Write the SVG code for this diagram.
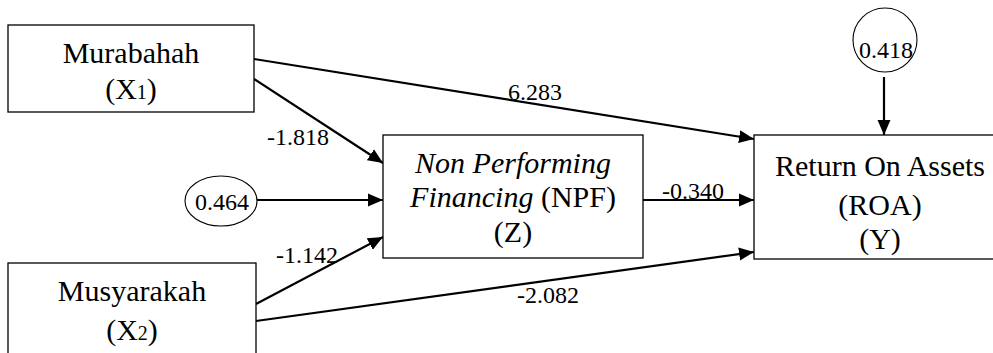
<svg xmlns="http://www.w3.org/2000/svg" width="993" height="353" viewBox="0 0 993 353">
<style>
.box{fill:#fff;stroke:#000;stroke-width:1.3}
.ell{fill:#fff;stroke:#000;stroke-width:1.1}
.t{font-size:30px;fill:#000;text-anchor:middle}
.lb{font-size:24px;fill:#000}
.c{stroke:#000;stroke-width:2.2;fill:none;marker-end:url(#ah)}
</style>
<defs>
<marker id="ah" markerUnits="userSpaceOnUse" markerWidth="16" markerHeight="14" refX="15" refY="7" orient="auto">
<path d="M0,0.5 L15,7 L0,13.5 z" fill="#000"/>
</marker>
</defs>
<rect width="993" height="353" fill="#fff"/>
<g font-family="'Liberation Serif', 'Times New Roman', Tinos, 'DejaVu Serif', serif">
<g id="connectors">
<line class="c" x1="254" y1="59" x2="754" y2="139"/>
<line class="c" x1="254" y1="79" x2="383" y2="163"/>
<line class="c" x1="257" y1="200" x2="383" y2="200"/>
<line class="c" x1="256" y1="304" x2="383" y2="237"/>
<line class="c" x1="256" y1="321" x2="754" y2="252"/>
<line class="c" x1="643" y1="200" x2="754" y2="200"/>
<line class="c" x1="884" y1="77" x2="884" y2="135"/>
<text class="lb" x="508" y="100">6.283</text>
<text class="lb" x="267" y="145">-1.818</text>
<text class="lb" x="276" y="263">-1.142</text>
<text class="lb" x="662" y="199">-0.340</text>
<text class="lb" x="517" y="303">-2.082</text>
</g>
<g id="murabahah">
<rect class="box" x="8" y="25" width="246" height="87"/>
<text class="t" x="131" y="63">Murabahah</text>
<text class="t" x="131" y="99">(X<tspan font-size="20">1</tspan>)</text>
</g>
<g id="musyarakah">
<rect class="box" x="8" y="263" width="248" height="100"/>
<text class="t" x="132" y="301">Musyarakah</text>
<text class="t" x="132" y="340">(X<tspan font-size="20">2</tspan>)</text>
</g>
<g id="npf">
<rect class="box" x="383" y="135" width="260" height="123"/>
<text class="t" x="513" y="173" font-style="italic">Non Performing</text>
<text class="t" x="513" y="207"><tspan font-style="italic">Financing</tspan> (NPF)</text>
<text class="t" x="513" y="242">(Z)</text>
</g>
<g id="roa">
<rect class="box" x="754" y="135" width="260" height="124"/>
<text class="t" x="880" y="176">Return On Assets</text>
<text class="t" x="880" y="215">(ROA)</text>
<text class="t" x="880" y="249">(Y)</text>
</g>
<g id="e1">
<ellipse class="ell" cx="221" cy="201" rx="36" ry="25"/>
<text class="lb" x="222" y="210" text-anchor="middle" font-size="26">0.464</text>
</g>
<g id="e2">
<ellipse class="ell" cx="885" cy="40" rx="32" ry="32"/>
<text class="lb" x="886" y="58" text-anchor="middle" font-size="27">0.418</text>
</g>
</g>
</svg>
